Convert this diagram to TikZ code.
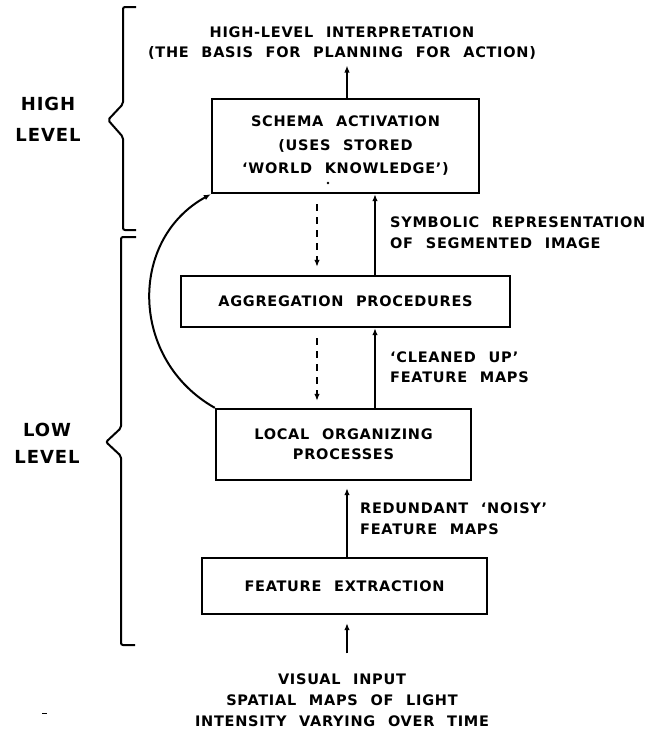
\documentclass[tikz,border=0pt]{standalone}
\usepackage{fontspec}
\setmainfont{DejaVu Sans}
\newfontfamily\lettering{DejaVu Sans Bold}[LetterSpace=5,WordSpace=2.2]
\usetikzlibrary{arrows.meta}

\begin{document}
\begin{tikzpicture}[x=1pt,y=-1pt,
  every node/.style={inner sep=0pt},
  txt/.style={font=\lettering\fontsize{14.5}{20}\selectfont, align=center},
  side/.style={font=\lettering\fontsize{14.5}{21}\selectfont, align=left, anchor=west},
  lvl/.style={font=\lettering\fontsize{18}{#1}\selectfont, align=center},
  box/.style={draw, line width=2.3pt, align=center,
    font=\lettering\fontsize{14.5}{22}\selectfont},
  arr/.style={line width=2pt, -{Latex[length=7pt,width=5.5pt]}},
  darr/.style={arr, dash pattern=on 7pt off 6pt},
  brace/.style={line width=2pt, rounded corners=2pt}]

\useasboundingbox (0,0) rectangle (656,734);

% processing boxes
\node[box, minimum width=267pt, minimum height=94pt,
  font=\lettering\fontsize{14.5}{23.5}\selectfont] (schema) at (345.5,146)
  {SCHEMA ACTIVATION\\(USES STORED\\‘WORLD KNOWLEDGE’)};
\node[box, minimum width=329pt, minimum height=51pt] (agg) at (345.5,301.5)
  {AGGREGATION PROCEDURES};
\node[box, minimum width=255pt, minimum height=71pt,
  font=\lettering\fontsize{14.5}{20}\selectfont] (local) at (343.5,444.5)
  {LOCAL ORGANIZING\\PROCESSES};
\node[box, minimum width=285pt, minimum height=56pt] (feat) at (344.5,586)
  {FEATURE EXTRACTION};

% input and output texts
\node[txt] (interp) at (342,43)
  {HIGH-LEVEL INTERPRETATION\\(THE BASIS FOR PLANNING FOR ACTION)};
\node[txt, font=\lettering\fontsize{14.5}{21}\selectfont] (vis) at (342,700)
  {VISUAL INPUT\\SPATIAL MAPS OF LIGHT\\INTENSITY VARYING OVER TIME};

% connector labels
\node[side] (sym) at (390,232.5) {SYMBOLIC REPRESENTATION\\OF SEGMENTED IMAGE};
\node[side, font=\lettering\fontsize{14.5}{20}\selectfont] (clean) at (390,367)
  {‘CLEANED UP’\\FEATURE MAPS};
\node[side] (noisy) at (360,518.5) {REDUNDANT ‘NOISY’\\FEATURE MAPS};

% level labels
\node[lvl=31] (high) at (48,119) {HIGH\\LEVEL};
\node[lvl=27] (low) at (47,443.5) {LOW\\LEVEL};

% x positions of the vertical connectors
\coordinate (upx) at (375,0);
\coordinate (dnx) at (317,0);
\coordinate (midx) at (347,0);

% upward data flow
\draw[arr, shorten >=6pt] (schema.north -| midx) -- (interp.south -| midx);
\draw[arr] (agg.north -| upx) -- (schema.south -| upx);
\draw[arr] (local.north -| upx) -- (agg.south -| upx);
\draw[arr, shorten >=7pt] (feat.north -| midx) -- (local.south -| midx);
\draw[arr, shorten <=20pt, shorten >=8pt] (vis.north -| midx) -- (feat.south -| midx);

% top-down guidance
\draw[darr, shorten <=10pt, shorten >=8pt] (schema.south -| dnx) -- (agg.north -| dnx);
\draw[darr, shorten <=10pt, shorten >=7pt] (agg.south -| dnx) -- (local.north -| dnx);

% feedback from local processes to schema activation
\draw[arr] (local.north west) .. controls (130,360) and (128,240) .. (schema.south west);

% level braces
\draw[brace] (136,7) -- (123,7) -- (123,104) -- (108,120) -- (123,137) -- (123,230) -- (136,230);
\draw[brace] (136,237) -- (121,237) -- (121,428) -- (106,442) -- (121,456) -- (121,645) -- (135,645);

% small marks
\fill (328,183) circle (1.3);
\fill (42,712.5) rectangle (47,714);
\end{tikzpicture}
\end{document}
